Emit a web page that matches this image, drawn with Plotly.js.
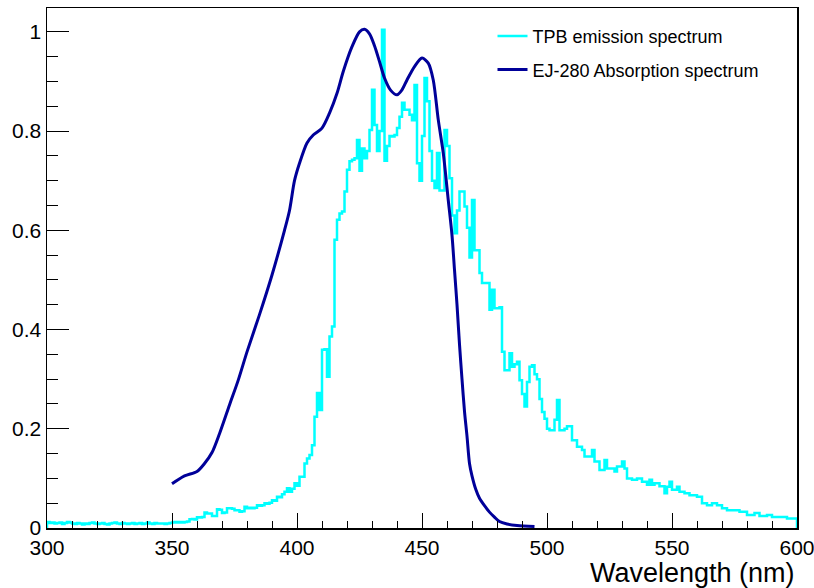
<!DOCTYPE html>
<html>
<head>
<meta charset="utf-8">
<script src="https://cdn.plot.ly/plotly-3.0.1.min.js"></script>
<style>html,body{margin:0;padding:0;background:#fff;overflow:hidden;}#chart{width:814px;height:588px;}</style>
</head>
<body>
<div id="chart"></div>
<script>
// TPB emission spectrum: histogram, 1 nm bins from 300 to 600 nm
const tpbBinLow = 300;
const tpbBinWidth = 1;
const tpbEmission = [
  0.012,0.010,0.011,0.009,0.010,0.011,0.008,0.010,0.012,0.011,
  0.009,0.008,0.010,0.009,0.007,0.009,0.008,0.010,0.011,0.009,
  0.008,0.009,0.010,0.008,0.007,0.009,0.010,0.011,0.009,0.008,
  0.010,0.009,0.008,0.009,0.010,0.008,0.009,0.010,0.008,0.009,
  0.011,0.009,0.008,0.010,0.009,0.009,0.009,0.008,0.009,0.010,
  0.011,0.012,0.011,0.012,0.011,0.012,0.013,0.0175,0.018,0.017,
  0.0215,0.021,0.022,0.031,0.029,0.029,0.024,0.024,0.038,0.037,
  0.030,0.031,0.040,0.040,0.039,0.036,0.036,0.033,0.034,0.043,
  0.040,0.041,0.040,0.041,0.046,0.045,0.046,0.050,0.049,0.051,
  0.056,0.055,0.063,0.062,0.068,0.073,0.080,0.073,0.079,0.090,
  0.085,0.1035,0.1035,0.130,0.140,0.147,0.167,0.224,0.272,0.238,
  0.359,0.360,0.305,0.386,0.406,0.581,0.621,0.634,0.638,0.678,
  0.722,0.739,0.742,0.745,0.782,0.720,0.765,0.745,0.760,0.802,
  0.883,0.812,0.760,0.800,1.004,0.740,0.770,0.790,0.789,0.792,
  0.806,0.829,0.857,0.843,0.843,0.833,0.822,0.893,0.735,0.700,
  0.790,0.907,0.860,0.760,0.700,0.685,0.756,0.680,0.680,0.802,
  0.770,0.705,0.630,0.594,0.640,0.678,0.678,0.648,0.605,0.545,
  0.661,0.560,0.560,0.514,0.494,0.494,0.494,0.440,0.480,0.443,
  0.443,0.445,0.355,0.318,0.318,0.352,0.325,0.330,0.335,0.298,
  0.270,0.245,0.294,0.325,0.328,0.310,0.300,0.260,0.234,0.220,
  0.200,0.197,0.197,0.218,0.258,0.197,0.197,0.200,0.205,0.205,
  0.177,0.177,0.164,0.164,0.157,0.144,0.144,0.144,0.157,0.134,
  0.134,0.117,0.117,0.137,0.120,0.120,0.120,0.114,0.124,0.124,
  0.134,0.120,0.100,0.100,0.097,0.097,0.100,0.100,0.093,0.093,
  0.087,0.097,0.087,0.090,0.090,0.084,0.084,0.070,0.083,0.093,
  0.077,0.077,0.083,0.073,0.073,0.070,0.070,0.066,0.066,0.066,
  0.063,0.063,0.050,0.050,0.046,0.046,0.050,0.050,0.046,0.046,
  0.040,0.040,0.036,0.036,0.036,0.036,0.036,0.033,0.033,0.033,
  0.026,0.026,0.026,0.030,0.030,0.024,0.024,0.024,0.026,0.026,
  0.022,0.022,0.022,0.022,0.022,0.022,0.019,0.019,0.019,0.019
];

// EJ-280 absorption spectrum: smooth curve
const ejWavelength = [350,355,360,363,366,369,373,376.5,380,385,
  390,395,397,399,401,404,406.5,410,413,416,
  418.5,422,425,427,429,431,433,435,437.5,440,
  442,444,447,450,452.5,454.5,456.5,458.5,460.5,462,
  463,464,465,466,467,468,469,470,471.5,473,
  475,477,479,481,484,488,495];
const ejAbsorption = [0.089,0.105,0.114,0.13,0.152,0.19,0.248,0.298,0.355,0.43,
  0.51,0.60,0.64,0.70,0.735,0.776,0.792,0.806,0.836,0.876,
  0.92,0.97,1.0,1.005,0.996,0.972,0.94,0.907,0.882,0.873,
  0.883,0.903,0.93,0.947,0.937,0.903,0.823,0.756,0.661,0.59,
  0.52,0.45,0.37,0.30,0.235,0.185,0.13,0.105,0.078,0.06,
  0.045,0.032,0.022,0.013,0.008,0.005,0.003];

const xTickVals = [300,350,400,450,500,550,600];
const yTickVals = [0,0.2,0.4,0.6,0.8,1];

// histogram outline (step) built from bin edges
const histX = [tpbBinLow];
const histY = [0];
for (let i = 0; i < tpbEmission.length; i++) {
  histX.push(tpbBinLow + i * tpbBinWidth);
  histY.push(tpbEmission[i]);
}
histX.push(tpbBinLow + tpbEmission.length * tpbBinWidth);
histY.push(0);

const FONT = 'Liberation Sans, Arial, Helvetica, sans-serif';

const traces = [
  {
    x: histX, y: histY, type: 'scatter', mode: 'lines',
    line: {shape: 'hv', color: '#00FFFF', width: 2.5},
    name: 'TPB emission spectrum', legendgroup: 'a'
  },
  {
    x: ejWavelength, y: ejAbsorption, type: 'scatter', mode: 'lines',
    line: {shape: 'spline', smoothing: 0.8, color: '#000099', width: 3},
    name: 'EJ-280 Absorption spectrum', legendgroup: 'b'
  }
];

const layout = {
  width: 814, height: 588,
  margin: {l: 47, r: 17, t: 8, b: 60, pad: 0},
  paper_bgcolor: '#ffffff', plot_bgcolor: '#ffffff',
  font: {family: FONT, color: '#000000', size: 21},
  showlegend: true,
  legend: {
    x: 0.594, y: 0.981, xanchor: 'left', yanchor: 'top',
    bgcolor: 'rgba(255,255,255,0)', borderwidth: 0,
    font: {family: FONT, size: 18, color: '#000000'},
    tracegroupgap: 7
  },
  xaxis: {
    range: [300, 600], tickvals: xTickVals, ticktext: xTickVals.map(String),
    ticks: 'inside', ticklen: 15, tickwidth: 1, tickcolor: '#000',
    ticklabeloverflow: 'allow',
    minor: {dtick: 10, tick0: 300, ticks: 'inside', ticklen: 7.5, tickwidth: 1, tickcolor: '#000', showgrid: false},
    showline: true, linecolor: '#000', linewidth: 1.5, mirror: true,
    showgrid: false, zeroline: false,
    tickfont: {family: FONT, size: 21, color: '#000'}
  },
  yaxis: {
    range: [0, 1.048], tickvals: yTickVals, ticktext: yTickVals.map(String),
    ticks: 'inside', ticklen: 22, tickwidth: 1, tickcolor: '#000',
    ticklabeloverflow: 'allow',
    minor: {dtick: 0.05, tick0: 0, ticks: 'inside', ticklen: 11, tickwidth: 1, tickcolor: '#000', showgrid: false},
    showline: true, linecolor: '#000', linewidth: 1.5, mirror: true,
    showgrid: false, zeroline: false,
    tickfont: {family: FONT, size: 21, color: '#000'}
  },
  annotations: [{
    text: 'Wavelength (nm)', xref: 'paper', yref: 'paper',
    x: 1, y: -0.087, xanchor: 'right', yanchor: 'middle', showarrow: false,
    font: {family: FONT, size: 27, color: '#000'}
  }]
};

Plotly.newPlot('chart', traces, layout, {displayModeBar: false, staticPlot: true});
</script>
</body>
</html>
